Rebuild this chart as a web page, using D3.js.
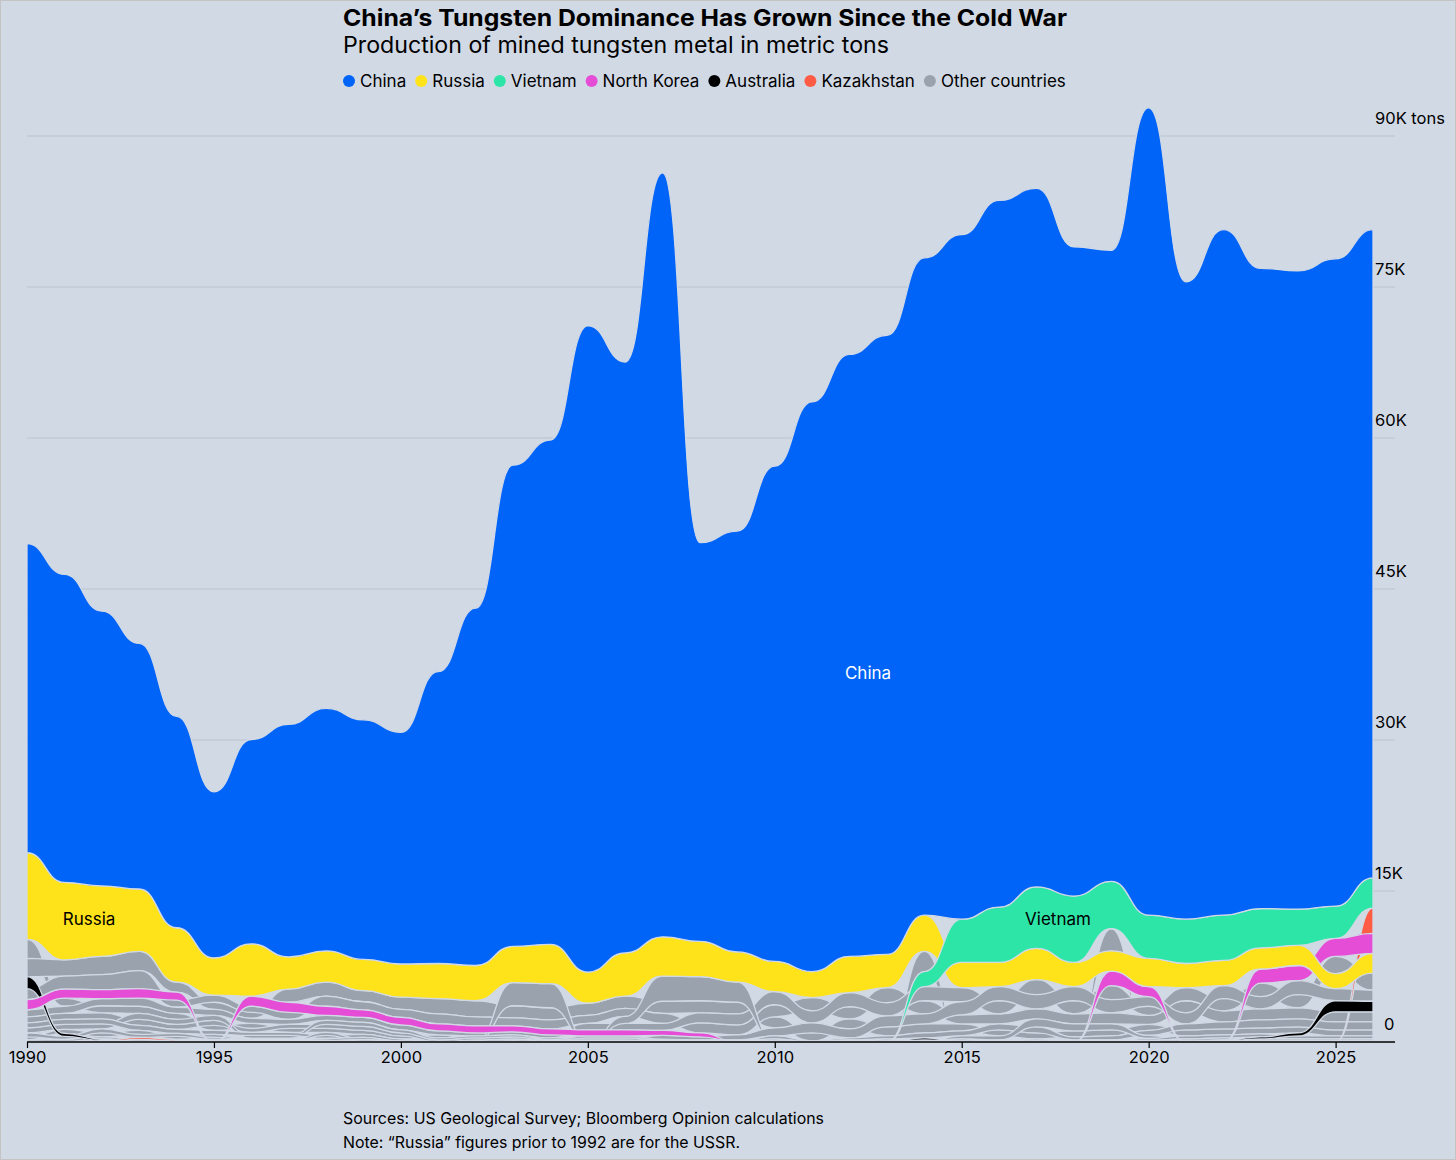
<!DOCTYPE html>
<html>
<head>
<meta charset="utf-8">
<script src="https://cdn.jsdelivr.net/npm/d3@7"></script>
<style>
	body { margin: 0; background: #d1d9e5; }
	svg { display: block; font-family: Inter, "Noto Sans", sans-serif; }
</style>
</head>
<body>
<svg id="chart" width="1456" height="1160"></svg>
<script>
// years on the x axis
var years = [1990, 1991, 1992, 1993, 1994, 1995, 1996, 1997, 1998, 1999,
	2000, 2001, 2002, 2003, 2004, 2005, 2006, 2007, 2008, 2009,
	2010, 2011, 2012, 2013, 2014, 2015, 2016, 2017, 2018, 2019,
	2020, 2021, 2022, 2023, 2024, 2025, 2026];

// production, metric tons
var china = [30700, 30600, 27300, 24400, 21000, 16500, 20300, 23100, 24100, 23800,
	23000, 29000, 35500, 47800, 50100, 64200, 58700, 75900, 39600, 41800,
	49200, 56600, 59800, 61500, 65300, 68000, 70200, 69400, 64500, 62700,
	80200, 63300, 68100, 63600, 63400, 64300, 64400];
var russia = [8600, 7700, 7000, 6200, 5400, 3700, 5200, 3200, 3100, 3100,
	3300, 3500, 3500, 3600, 3900, 3100, 4300, 3900, 3500, 3000,
	3000, 2600, 3600, 3300, 3600, 2500, 2400, 3100, 2400, 2000,
	2800, 2400, 2500, 2100, 2000, 1500, 1950];
var vietnam = [0, 0, 0, 0, 0, 0, 0, 0, 0, 0,
	0, 0, 0, 0, 0, 0, 0, 0, 0, 0,
	0, 0, 0, 0, 1500, 4300, 5500, 6100, 6600, 4700,
	4300, 4400, 4500, 3900, 3600, 3200, 3000];
var northKorea = [1000, 900, 900, 950, 800, 0, 1000, 1000, 900, 750,
	750, 700, 700, 600, 600, 600, 600, 500, 400, 0,
	0, 0, 0, 0, 0, 0, 0, 0, 0, 1450,
	1000, 0, 0, 1400, 1500, 1800, 2000];
var australia = [1200, 300, 150, 50, 0, 0, 0, 0, 0, 0,
	0, 0, 0, 0, 0, 0, 0, 0, 0, 0,
	0, 0, 0, 0, 200, 0, 0, 0, 0, 0,
	0, 0, 100, 200, 300, 1100, 1050];
var kazakhstan = [0, 50, 150, 200, 150, 150, 150, 150, 150, 50,
	0, 0, 0, 0, 0, 0, 0, 0, 0, 0,
	0, 0, 0, 0, 0, 0, 0, 0, 0, 0,
	0, 0, 0, 0, 0, 0, 2500];

// the grey "other countries"
var mongolia = [1900, 800, 700, 700, 600, 500, 500, 400, 400, 400,
	300, 300, 200, 200, 100, 100, 100, 50, 0, 0,
	0, 0, 0, 0, 2000, 0, 0, 0, 0, 2200,
	0, 0, 0, 0, 0, 0, 0];
var portugal = [1800, 1600, 1800, 1900, 1000, 700, 600, 1300, 1400, 1100,
	1200, 1500, 1600, 1200, 1200, 1200, 1200, 1200, 1200, 1150,
	1100, 800, 1000, 900, 900, 700, 600, 600, 600, 600,
	600, 600, 600, 600, 600, 600, 600];
var austria = [1100, 1300, 1500, 1800, 700, 700, 600, 700, 1000, 800,
	800, 1000, 900, 800, 900, 800, 800, 1000, 1000, 1000,
	1200, 1300, 1200, 1500, 1300, 900, 1000, 1000, 1000, 1100,
	900, 1200, 1100, 1100, 1100, 1000, 1000];
var bolivia = [700, 700, 700, 800, 600, 600, 500, 500, 500, 500,
	500, 400, 300, 300, 300, 650, 650, 700, 1000, 1100,
	1300, 1200, 1400, 1300, 1400, 1400, 1300, 1500, 1300, 1400,
	900, 1300, 1200, 1350, 1300, 1700, 1700];
var canada = [0, 0, 0, 0, 0, 0, 0, 0, 0, 0,
	0, 0, 0, 2300, 2400, 0, 700, 2500, 2400, 2000,
	0, 0, 0, 0, 0, 0, 0, 0, 0, 0,
	0, 0, 0, 0, 0, 0, 0];
var rwanda = [0, 0, 0, 0, 0, 0, 0, 0, 0, 0,
	0, 0, 0, 100, 0, 100, 100, 400, 300, 500,
	800, 1000, 900, 1100, 1000, 1300, 1400, 1400, 1400, 1300,
	950, 1100, 1300, 1200, 1400, 1200, 1100];
var spain = [0, 0, 0, 0, 0, 0, 0, 0, 0, 0,
	0, 0, 0, 0, 0, 0, 0, 0, 0, 0,
	300, 100, 200, 300, 500, 500, 600, 600, 300, 400,
	500, 600, 700, 800, 800, 800, 800];
var uk = [0, 0, 0, 0, 0, 0, 0, 0, 0, 0,
	0, 0, 0, 0, 0, 0, 0, 0, 0, 0,
	0, 0, 0, 0, 0, 300, 400, 800, 700, 600,
	300, 0, 0, 0, 0, 0, 0];
var peru = [600, 600, 600, 600, 500, 500, 400, 400, 400, 400,
	300, 200, 200, 200, 200, 200, 200, 100, 100, 100,
	200, 0, 100, 200, 100, 200, 100, 200, 100, 100,
	200, 300, 300, 300, 300, 300, 300];
var brazil = [500, 500, 500, 600, 500, 500, 300, 300, 400, 400,
	300, 200, 200, 200, 100, 200, 200, 100, 100, 100,
	100, 0, 100, 100, 100, 100, 100, 100, 100, 100,
	150, 200, 200, 200, 200, 200, 200];
var myanmar = [500, 500, 500, 500, 400, 400, 300, 300, 300, 300,
	200, 0, 0, 0, 0, 0, 0, 0, 0, 0,
	0, 0, 0, 0, 0, 0, 0, 0, 0, 0,
	0, 100, 100, 100, 100, 100, 100];
var thailand = [300, 400, 400, 400, 300, 300, 100, 100, 300, 200,
	100, 0, 0, 0, 0, 0, 0, 0, 0, 0,
	0, 0, 0, 0, 0, 0, 0, 0, 0, 0,
	0, 0, 0, 0, 0, 0, 0];
var uganda = [400, 300, 400, 300, 300, 200, 100, 100, 200, 200,
	0, 0, 0, 0, 0, 0, 0, 0, 0, 0,
	0, 0, 0, 0, 0, 0, 0, 0, 0, 0,
	0, 0, 0, 0, 0, 0, 0];
var burundi = [200, 200, 200, 200, 100, 100, 0, 0, 0, 0,
	0, 0, 0, 0, 0, 0, 0, 0, 0, 0,
	0, 0, 0, 0, 0, 0, 0, 0, 0, 0,
	0, 0, 0, 0, 0, 0, 0];

var xTicks = [1990, 1995, 2000, 2005, 2010, 2015, 2020, 2025];
var yTicks = [0, 15000, 30000, 45000, 60000, 75000, 90000];
var yTickLabels = ["0", "15K", "30K", "45K", "60K", "75K", "90K tons"];

var legendNames = ["China", "Russia", "Vietnam", "North Korea", "Australia", "Kazakhstan", "Other countries"];
var legendColors = ["#0064f9", "#ffe31a", "#2ee5a8", "#e54dd6", "#000000", "#ff5c45", "#99a2ad"];
var grey = "#99a2ad";
var bg = "#d1d9e5";

var countries = [
	{ name: "Mongolia", values: mongolia, color: grey },
	{ name: "Portugal", values: portugal, color: grey },
	{ name: "Austria", values: austria, color: grey },
	{ name: "Bolivia", values: bolivia, color: grey },
	{ name: "Canada", values: canada, color: grey },
	{ name: "Rwanda", values: rwanda, color: grey },
	{ name: "Spain", values: spain, color: grey },
	{ name: "UK", values: uk, color: grey },
	{ name: "Peru", values: peru, color: grey },
	{ name: "Brazil", values: brazil, color: grey },
	{ name: "Myanmar", values: myanmar, color: grey },
	{ name: "Thailand", values: thailand, color: grey },
	{ name: "Uganda", values: uganda, color: grey },
	{ name: "Burundi", values: burundi, color: grey },
	{ name: "Kazakhstan", values: kazakhstan, color: legendColors[5] },
	{ name: "Australia", values: australia, color: legendColors[4] },
	{ name: "North Korea", values: northKorea, color: legendColors[3] },
	{ name: "Russia", values: russia, color: legendColors[1] },
	{ name: "Vietnam", values: vietnam, color: legendColors[2] },
	{ name: "China", values: china, color: legendColors[0] }
];

// ranked stack : smallest at the bottom each year
var layers = countries.map(function(c) { return { c: c, pts: [] }; });
years.forEach(function(yr, i) {
	var order = layers.slice().sort(function(a, b) { return a.c.values[i] - b.c.values[i]; });
	var acc = 0;
	order.forEach(function(l) {
		var v = l.c.values[i];
		l.pts.push({ year: yr, y0: acc, y1: acc + v });
		acc += v;
	});
});

var svg = d3.select("#chart");
svg.append("rect").attr("x", 0.5).attr("y", 0.5).attr("width", 1455).attr("height", 1159)
	.attr("fill", bg).attr("stroke", "#c4c4c4");

var x = d3.scaleLinear().domain([1990, 2026]).range([27, 1373]);
var y = d3.scaleLinear().domain([0, 90000]).range([1042, 136]);

// gridlines + y labels
yTicks.forEach(function(t, i) {
	if (t > 0) {
		svg.append("line").attr("x1", 27).attr("x2", 1395)
			.attr("y1", y(t)).attr("y2", y(t))
			.attr("stroke", "#bcc3cc").attr("stroke-width", 1);
	}
	svg.append("text").attr("x", t === 0 ? 1384 : 1375).attr("y", y(t) - 12)
		.attr("font-size", 16.5).attr("fill", "#000").text(yTickLabels[i]);
});

var area = d3.area()
	.x(function(d) { return x(d.year); })
	.y0(function(d) { return y(d.y0); })
	.y1(function(d) { return y(d.y1); })
	.curve(d3.curveBumpX);

svg.append("g").selectAll("path")
	.data(layers)
	.enter().append("path")
	.attr("d", function(l) { return area(l.pts); })
	.attr("fill", function(l) { return l.c.color; })
	.attr("stroke", bg)
	.attr("stroke-width", 1.3)
	.attr("stroke-linejoin", "round");

// x axis
var xAxis = d3.axisBottom(x).tickValues(xTicks).tickFormat(d3.format("d")).tickSize(6).tickSizeOuter(0);
var gx = svg.append("g").attr("transform", "translate(0,1042)").call(xAxis);
gx.select(".domain").attr("d", "M27,0H1395").attr("stroke", "#000").attr("stroke-width", 1.5);
gx.selectAll(".tick line").attr("stroke", "#000").attr("stroke-width", 1.2);
gx.selectAll(".tick text").attr("font-size", 16.5).attr("font-family", "Inter, 'Noto Sans', sans-serif")
	.attr("fill", "#000").attr("dy", "0.95em").attr("y", 5);

// labels inside the areas
svg.append("text").attr("x", 868).attr("y", 679).attr("text-anchor", "middle")
	.attr("font-size", 17).attr("fill", "#fff").text("China");
svg.append("text").attr("x", 89).attr("y", 925).attr("text-anchor", "middle")
	.attr("font-size", 17).attr("fill", "#000").text("Russia");
svg.append("text").attr("x", 1058).attr("y", 925).attr("text-anchor", "middle")
	.attr("font-size", 17).attr("fill", "#000").text("Vietnam");

// title, subtitle
svg.append("text").attr("x", 343).attr("y", 26).attr("font-size", 23).attr("font-weight", 700)
	.attr("textLength", 724).attr("lengthAdjust", "spacingAndGlyphs").attr("fill", "#000")
	.text("China\u2019s Tungsten Dominance Has Grown Since the Cold War");
svg.append("text").attr("x", 343).attr("y", 53).attr("font-size", 22.5)
	.attr("textLength", 546).attr("lengthAdjust", "spacingAndGlyphs").attr("fill", "#000")
	.text("Production of mined tungsten metal in metric tons");

// legend
var lx = 343;
legendNames.forEach(function(n, i) {
	var g = svg.append("g").attr("transform", "translate(" + lx + ",81)");
	g.append("circle").attr("cx", 6).attr("cy", 0).attr("r", 6).attr("fill", legendColors[i]);
	var t = g.append("text").attr("x", 17).attr("y", 6).attr("font-size", 17).attr("fill", "#000").text(n);
	lx += 17 + t.node().getComputedTextLength() + 9;
});

// footer
svg.append("text").attr("x", 343).attr("y", 1124).attr("font-size", 16).attr("fill", "#000")
	.attr("textLength", 481).attr("lengthAdjust", "spacingAndGlyphs")
	.text("Sources: US Geological Survey; Bloomberg Opinion calculations");
svg.append("text").attr("x", 343).attr("y", 1148).attr("font-size", 16).attr("fill", "#000")
	.attr("textLength", 397).attr("lengthAdjust", "spacingAndGlyphs")
	.text("Note: \u201cRussia\u201d figures prior to 1992 are for the USSR.");
</script>
</body>
</html>
